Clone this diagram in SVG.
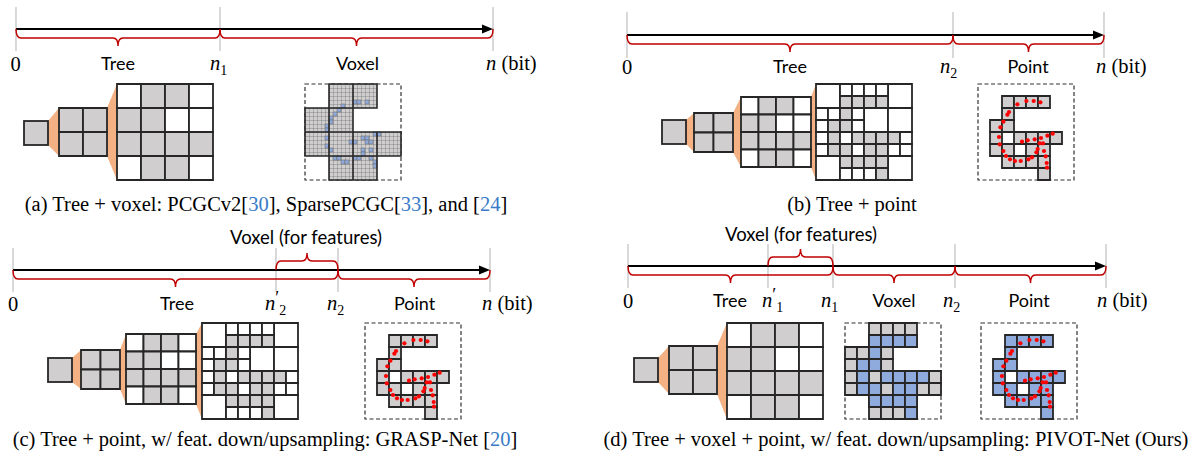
<svg xmlns="http://www.w3.org/2000/svg" width="1193" height="452" viewBox="0 0 1193 452">
<style>
.g{fill:#d0cece}
.w{fill:#fff}
.c rect{stroke:#262626;stroke-width:1.8;vector-effect:non-scaling-stroke}
.or{fill:#f4b183}
.tk{stroke:#bfbfbf;stroke-width:1.2}
.ax{stroke:#000;stroke-width:2}
.br{fill:none;stroke:#c00000;stroke-width:1.5}
.lb{font-family:Lato,"Open Sans",sans-serif;font-size:18px;fill:#000;text-anchor:middle}
.vf{font-size:18.5px}
.m{font-family:"Liberation Serif",serif;font-size:20.5px;font-style:italic}
.r{font-family:"Liberation Serif",serif;font-size:20.5px}
.sub{font-size:14px;font-style:normal}
.pr{font-size:18px;font-style:normal}
.cap{font-family:"Liberation Serif",serif;font-size:20.5px;text-anchor:middle}
.ref{fill:#3a7bc8}
.dash{fill:none;stroke:#303030;stroke-width:1.2;stroke-dasharray:4 2.5}
.dots circle{fill:#ff0000}
.fine{fill:#8faadc;stroke:#6f6f6f;stroke-width:0.6}
.co{fill:none;stroke:#262626;stroke-width:1.6}
</style>
<defs>
<pattern id="fg" patternUnits="userSpaceOnUse" width="4" height="4">
<rect width="4" height="4" fill="#d0cece"/>
<path d="M0 0H4M0 0V4" stroke="#6a6a6a" stroke-width="0.7" fill="none"/>
</pattern>
<g id="t2" class="c">
<rect class="g" x="0" y="0" width="24" height="24"/><rect class="g" x="24" y="0" width="24" height="24"/>
<rect class="g" x="0" y="24" width="24" height="24"/><rect class="g" x="24" y="24" width="24" height="24"/>
</g>
<g id="t4" class="c">
<rect class="w" x="0" y="0" width="24" height="24"/><rect class="g" x="24" y="0" width="24" height="24"/><rect class="g" x="48" y="0" width="24" height="24"/><rect class="w" x="72" y="0" width="24" height="24"/>
<rect class="g" x="0" y="24" width="24" height="24"/><rect class="g" x="24" y="24" width="24" height="24"/><rect class="w" x="48" y="24" width="24" height="24"/><rect class="w" x="72" y="24" width="24" height="24"/>
<rect class="g" x="0" y="48" width="24" height="24"/><rect class="g" x="24" y="48" width="24" height="24"/><rect class="g" x="48" y="48" width="24" height="24"/><rect class="g" x="72" y="48" width="24" height="24"/>
<rect class="w" x="0" y="72" width="24" height="24"/><rect class="g" x="24" y="72" width="24" height="24"/><rect class="g" x="48" y="72" width="24" height="24"/><rect class="w" x="72" y="72" width="24" height="24"/>
</g>
<g id="oct" class="c">
<rect class="w" x="0" y="0" width="24" height="24"/><rect class="w" x="72" y="0" width="24" height="24"/>
<rect class="w" x="48" y="24" width="24" height="24"/><rect class="w" x="72" y="24" width="24" height="24"/>
<rect class="w" x="0" y="72" width="24" height="24"/><rect class="w" x="72" y="72" width="24" height="24"/>
<rect class="w" x="24" y="0" width="12" height="12"/><rect class="w" x="36" y="0" width="12" height="12"/><rect class="w" x="48" y="0" width="12" height="12"/><rect class="w" x="60" y="0" width="12" height="12"/>
<rect class="g" x="24" y="12" width="12" height="12"/><rect class="g" x="36" y="12" width="12" height="12"/><rect class="g" x="48" y="12" width="12" height="12"/><rect class="g" x="60" y="12" width="12" height="12"/>
<rect class="w" x="0" y="24" width="12" height="12"/><rect class="w" x="12" y="24" width="12" height="12"/><rect class="g" x="24" y="24" width="12" height="12"/><rect class="w" x="36" y="24" width="12" height="12"/>
<rect class="w" x="0" y="36" width="12" height="12"/><rect class="g" x="12" y="36" width="12" height="12"/><rect class="g" x="24" y="36" width="12" height="12"/><rect class="w" x="36" y="36" width="12" height="12"/>
<rect class="w" x="0" y="48" width="12" height="12"/><rect class="g" x="12" y="48" width="12" height="12"/><rect class="w" x="24" y="48" width="12" height="12"/><rect class="g" x="36" y="48" width="12" height="12"/><rect class="g" x="48" y="48" width="12" height="12"/><rect class="g" x="60" y="48" width="12" height="12"/><rect class="g" x="72" y="48" width="12" height="12"/><rect class="w" x="84" y="48" width="12" height="12"/>
<rect class="w" x="0" y="60" width="12" height="12"/><rect class="g" x="12" y="60" width="12" height="12"/><rect class="g" x="24" y="60" width="12" height="12"/><rect class="w" x="36" y="60" width="12" height="12"/><rect class="g" x="48" y="60" width="12" height="12"/><rect class="g" x="60" y="60" width="12" height="12"/><rect class="w" x="72" y="60" width="12" height="12"/><rect class="w" x="84" y="60" width="12" height="12"/>
<rect class="g" x="24" y="72" width="12" height="12"/><rect class="g" x="36" y="72" width="12" height="12"/><rect class="g" x="48" y="72" width="12" height="12"/><rect class="g" x="60" y="72" width="12" height="12"/>
<rect class="w" x="24" y="84" width="12" height="12"/><rect class="w" x="36" y="84" width="12" height="12"/><rect class="w" x="48" y="84" width="12" height="12"/><rect class="g" x="60" y="84" width="12" height="12"/>
</g>
<g id="ptc" class="c">
<rect x="24" y="12" width="12" height="12"/><rect x="36" y="12" width="12" height="12"/><rect x="48" y="12" width="12" height="12"/><rect x="60" y="12" width="12" height="12"/>
<rect x="24" y="24" width="12" height="12"/>
<rect x="12" y="36" width="12" height="12"/><rect x="24" y="36" width="12" height="12"/>
<rect x="12" y="48" width="12" height="12"/><rect x="36" y="48" width="12" height="12"/><rect x="48" y="48" width="12" height="12"/><rect x="60" y="48" width="12" height="12"/><rect x="72" y="48" width="12" height="12"/>
<rect x="12" y="60" width="12" height="12"/><rect x="24" y="60" width="12" height="12"/><rect x="48" y="60" width="12" height="12"/><rect x="60" y="60" width="12" height="12"/>
<rect x="24" y="72" width="12" height="12"/><rect x="36" y="72" width="12" height="12"/><rect x="48" y="72" width="12" height="12"/><rect x="60" y="72" width="12" height="12"/>
<rect x="60" y="84" width="12" height="12"/>
</g>
<g id="vg" class="c">
<rect class="g" x="24" y="0" width="12" height="12"/><rect class="g" x="36" y="0" width="12" height="12"/><rect class="g" x="48" y="0" width="12" height="12"/><rect class="g" x="60" y="0" width="12" height="12"/>
<rect class="g" x="24" y="12" width="12" height="12"/><rect class="g" x="36" y="12" width="12" height="12"/><rect class="g" x="48" y="12" width="12" height="12"/><rect class="g" x="60" y="12" width="12" height="12"/>
<rect class="g" x="0" y="24" width="12" height="12"/><rect class="g" x="12" y="24" width="12" height="12"/><rect class="g" x="24" y="24" width="12" height="12"/><rect class="g" x="36" y="24" width="12" height="12"/>
<rect class="g" x="0" y="36" width="12" height="12"/><rect class="g" x="12" y="36" width="12" height="12"/><rect class="g" x="24" y="36" width="12" height="12"/><rect class="g" x="36" y="36" width="12" height="12"/>
<rect class="g" x="0" y="48" width="12" height="12"/><rect class="g" x="12" y="48" width="12" height="12"/><rect class="g" x="24" y="48" width="12" height="12"/><rect class="g" x="36" y="48" width="12" height="12"/><rect class="g" x="48" y="48" width="12" height="12"/><rect class="g" x="60" y="48" width="12" height="12"/><rect class="g" x="72" y="48" width="12" height="12"/><rect class="g" x="84" y="48" width="12" height="12"/>
<rect class="g" x="0" y="60" width="12" height="12"/><rect class="g" x="12" y="60" width="12" height="12"/><rect class="g" x="24" y="60" width="12" height="12"/><rect class="g" x="36" y="60" width="12" height="12"/><rect class="g" x="48" y="60" width="12" height="12"/><rect class="g" x="60" y="60" width="12" height="12"/><rect class="g" x="72" y="60" width="12" height="12"/><rect class="g" x="84" y="60" width="12" height="12"/>
<rect class="g" x="24" y="72" width="12" height="12"/><rect class="g" x="36" y="72" width="12" height="12"/><rect class="g" x="48" y="72" width="12" height="12"/><rect class="g" x="60" y="72" width="12" height="12"/>
<rect class="g" x="24" y="84" width="12" height="12"/><rect class="g" x="36" y="84" width="12" height="12"/><rect class="g" x="48" y="84" width="12" height="12"/><rect class="g" x="60" y="84" width="12" height="12"/>
</g>
<g id="dots" class="dots">
<circle cx="39.4" cy="20.3" r="2.1"/><circle cx="48.4" cy="17" r="2.1"/><circle cx="55.7" cy="17" r="2.1"/><circle cx="62.4" cy="18.3" r="2.1"/>
<circle cx="31" cy="28" r="2.1"/><circle cx="29.4" cy="30.7" r="2.1"/><circle cx="25.4" cy="37.7" r="2.1"/><circle cx="22.4" cy="43.3" r="2.1"/>
<circle cx="21" cy="53" r="2.1"/><circle cx="21.7" cy="60.3" r="2.1"/><circle cx="25.4" cy="67" r="2.1"/><circle cx="28" cy="72" r="2.1"/>
<circle cx="32" cy="75.3" r="2.1"/><circle cx="37" cy="77" r="2.1"/><circle cx="42.7" cy="77" r="2.1"/><circle cx="50.4" cy="75.3" r="2.1"/>
<circle cx="54" cy="73.3" r="2.1"/><circle cx="44" cy="57.7" r="2.1"/><circle cx="49.7" cy="56.3" r="2.1"/><circle cx="56.7" cy="55.3" r="2.1"/>
<circle cx="63" cy="54" r="2.1"/><circle cx="69.4" cy="51.7" r="2.1"/><circle cx="74.7" cy="49.7" r="2.1"/><circle cx="61.7" cy="59.3" r="2.1"/>
<circle cx="65" cy="59.3" r="2.1"/><circle cx="59.7" cy="65" r="2.1"/><circle cx="58.4" cy="68.3" r="2.1"/><circle cx="66" cy="67" r="2.1"/>
<circle cx="67.7" cy="72.3" r="2.1"/><circle cx="68.7" cy="79" r="2.1"/><circle cx="69" cy="83.7" r="2.1"/>
</g>
</defs>
<rect width="1193" height="452" fill="#fff"/>

<!-- connectors: orange level transitions -->
<g id="connectors" class="or">
<polygon points="48,121 59,108 59,156 48,145"/>
<polygon points="107,108 117,84 117,180 107,156"/>
<polygon points="686,120 694,113 694,152 686,144"/>
<polygon points="733,113 741,97 741,167 733,152"/>
<polygon points="811,97 816,84 816,180 811,167"/>
<polygon points="72,358 81,350 81,389 72,382"/>
<polygon points="120,350 126,334 126,404 120,389"/>
<polygon points="196,334 202,323 202,419 196,404"/>
<polygon points="658,358 669,346 669,394 658,382"/>
<polygon points="717,346 727,323 727,419 717,394"/>
</g>

<!-- (a) -->
<g id="a-timeline">
<line class="tk" x1="16" y1="7" x2="16" y2="51"/><line class="tk" x1="220" y1="7" x2="220" y2="51"/><line class="tk" x1="493" y1="7" x2="493" y2="51"/>
<line class="ax" x1="16" y1="29" x2="484" y2="29"/><polygon points="482,24.5 493,29 482,33.5"/>
<path class="br" d="M16 29Q16 38 21 38H113Q118 38 118 46Q118 38 123 38H215Q220 38 220 29"/>
<path class="br" d="M220 29Q220 38 225 38H351.5Q356.5 38 356.5 46Q356.5 38 361.5 38H488Q493 38 493 29"/>
<text class="r" x="15.5" y="71" text-anchor="middle">0</text>
<text class="lb" x="118" y="70">Tree</text>
<text class="m" x="210" y="70">n<tspan class="sub" dy="5">1</tspan></text>
<text class="lb" x="357.5" y="70">Voxel</text>
<text class="m" x="486" y="70">n<tspan style="font-style:normal"> (bit)</tspan></text>
</g>
<g id="a-tree">
<rect class="g" x="24" y="121" width="24" height="24" stroke="#262626" stroke-width="1.8"/>
<use href="#t2" x="59" y="108"/>
<use href="#t4" x="117" y="84"/>
</g>
<g id="a-voxel" transform="translate(305,84)">
<rect class="dash" x="0" y="0" width="96" height="96"/>
<path d="M24 0H72V24H24ZM0 24H48V48H0ZM0 48H96V72H0ZM24 72H72V96H24Z" fill="url(#fg)"/>
<g class="fine">
<rect x="36" y="20" width="4" height="4"/><rect x="48" y="16" width="4" height="4"/><rect x="52" y="16" width="4" height="4"/><rect x="60" y="16" width="4" height="4"/>
<rect x="32" y="24" width="4" height="4"/><rect x="28" y="28" width="4" height="4"/><rect x="24" y="32" width="4" height="4"/><rect x="24" y="36" width="4" height="4"/>
<rect x="20" y="40" width="4" height="4"/><rect x="20" y="44" width="4" height="4"/><rect x="20" y="52" width="4" height="4"/><rect x="20" y="60" width="4" height="4"/>
<rect x="24" y="64" width="4" height="4"/><rect x="28" y="72" width="4" height="4"/><rect x="32" y="72" width="4" height="4"/><rect x="36" y="76" width="4" height="4"/>
<rect x="40" y="76" width="4" height="4"/><rect x="48" y="72" width="4" height="4"/><rect x="52" y="72" width="4" height="4"/><rect x="44" y="56" width="4" height="4"/>
<rect x="48" y="56" width="4" height="4"/><rect x="56" y="52" width="4" height="4"/><rect x="60" y="52" width="4" height="4"/><rect x="68" y="48" width="4" height="4"/>
<rect x="72" y="48" width="4" height="4"/><rect x="60" y="56" width="4" height="4"/><rect x="64" y="56" width="4" height="4"/><rect x="56" y="64" width="4" height="4"/>
<rect x="56" y="68" width="4" height="4"/><rect x="64" y="64" width="4" height="4"/><rect x="64" y="72" width="4" height="4"/><rect x="68" y="76" width="4" height="4"/>
<rect x="68" y="80" width="4" height="4"/>
</g>
<path class="co" d="M24 0H72V24H24ZM48 0V24M0 24H48V48H0ZM24 24V48M0 48H96V72H0ZM24 48V72M48 48V72M72 48V72M24 72H72V96H24ZM48 72V96"/>
</g>
<text id="a-caption" class="cap" x="266" y="211">(a) Tree + voxel: PCGCv2[<tspan class="ref">30</tspan>], SparsePCGC[<tspan class="ref">33</tspan>], and [<tspan class="ref">24</tspan>]</text>

<!-- (b) -->
<g id="b-timeline">
<line class="tk" x1="627" y1="12" x2="627" y2="58"/><line class="tk" x1="953" y1="12" x2="953" y2="58"/><line class="tk" x1="1104" y1="12" x2="1104" y2="58"/>
<line class="ax" x1="627" y1="35" x2="1095" y2="35"/><polygon points="1093,30.5 1104,35 1093,39.5"/>
<path class="br" d="M627 35Q627 44 632 44H785Q790 44 790 52Q790 44 795 44H948Q953 44 953 35"/>
<path class="br" d="M953 35Q953 44 958 44H1023.5Q1028.5 44 1028.5 52Q1028.5 44 1033.5 44H1099Q1104 44 1104 35"/>
<text class="r" x="627" y="74" text-anchor="middle">0</text>
<text class="lb" x="790" y="73">Tree</text>
<text class="m" x="940" y="73">n<tspan class="sub" dy="5">2</tspan></text>
<text class="lb" x="1028" y="73">Point</text>
<text class="m" x="1096" y="73">n<tspan style="font-style:normal"> (bit)</tspan></text>
</g>
<g id="b-tree">
<rect class="g" x="662" y="120" width="24" height="24" stroke="#262626" stroke-width="1.8"/>
<use href="#t2" transform="translate(694,113) scale(0.8125)"/>
<use href="#t4" transform="translate(741,97) scale(0.729)"/>
<use href="#oct" x="816" y="84"/>
</g>
<g id="b-point" transform="translate(978,84)">
<rect class="dash" x="0" y="0" width="96" height="96"/>
<use href="#ptc" fill="#d0cece"/>
<use href="#dots"/>
</g>
<text id="b-caption" class="cap" x="852" y="211">(b) Tree + point</text>

<!-- (c) -->
<g id="c-timeline">
<text class="lb vf" x="306" y="244">Voxel (for features)</text>
<line class="tk" x1="13" y1="248" x2="13" y2="292"/><line class="tk" x1="276" y1="248" x2="276" y2="292"/><line class="tk" x1="338" y1="248" x2="338" y2="292"/><line class="tk" x1="490" y1="248" x2="490" y2="292"/>
<line class="ax" x1="13" y1="270" x2="481" y2="270"/><polygon points="479,265.5 490,270 479,274.5"/>
<path class="br" d="M276 270Q276 261 281 261H302Q307 261 307 253Q307 261 312 261H333Q338 261 338 270"/>
<path class="br" d="M13 270Q13 279 18 279H170.5Q175.5 279 175.5 287Q175.5 279 180.5 279H333Q338 279 338 270"/>
<path class="br" d="M338 270Q338 279 343 279H409Q414 279 414 287Q414 279 419 279H485Q490 279 490 270"/>
<text class="r" x="13" y="311" text-anchor="middle">0</text>
<text class="lb" x="177" y="310">Tree</text>
<text class="m" x="265" y="310">n<tspan class="pr" dy="-6">′</tspan><tspan class="sub" dy="11">2</tspan></text>
<text class="m" x="327" y="310">n<tspan class="sub" dy="5">2</tspan></text>
<text class="lb" x="414.5" y="310">Point</text>
<text class="m" x="482" y="310">n<tspan style="font-style:normal"> (bit)</tspan></text>
</g>
<g id="c-tree">
<rect class="g" x="48" y="358" width="24" height="24" stroke="#262626" stroke-width="1.8"/>
<use href="#t2" transform="translate(81,350) scale(0.8125)"/>
<use href="#t4" transform="translate(126,334) scale(0.729)"/>
<use href="#oct" x="202" y="323"/>
</g>
<g id="c-point" transform="translate(365,323)">
<rect class="dash" x="0" y="0" width="96" height="96"/>
<use href="#ptc" fill="#d0cece"/>
<use href="#dots"/>
</g>
<text id="c-caption" class="cap" x="265" y="446">(c) Tree + point, w/ feat. down/upsampling: GRASP-Net [<tspan class="ref">20</tspan>]</text>

<!-- (d) -->
<g id="d-timeline">
<text class="lb vf" x="801" y="241">Voxel (for features)</text>
<line class="tk" x1="628" y1="244" x2="628" y2="288"/><line class="tk" x1="768" y1="244" x2="768" y2="288"/><line class="tk" x1="833" y1="244" x2="833" y2="288"/><line class="tk" x1="955" y1="244" x2="955" y2="288"/><line class="tk" x1="1106" y1="244" x2="1106" y2="288"/>
<line class="ax" x1="628" y1="266" x2="1097" y2="266"/><polygon points="1095,261.5 1106,266 1095,270.5"/>
<path class="br" d="M768 266Q768 257 773 257H795.5Q800.5 257 800.5 249Q800.5 257 805.5 257H828Q833 257 833 266"/>
<path class="br" d="M628 266Q628 275 633 275H725.5Q730.5 275 730.5 283Q730.5 275 735.5 275H828Q833 275 833 266"/>
<path class="br" d="M833 266Q833 275 838 275H889Q894 275 894 283Q894 275 899 275H950Q955 275 955 266"/>
<path class="br" d="M955 266Q955 275 960 275H1025.5Q1030.5 275 1030.5 283Q1030.5 275 1035.5 275H1101Q1106 275 1106 266"/>
<text class="r" x="628" y="308" text-anchor="middle">0</text>
<text class="lb" x="730" y="307">Tree</text>
<text class="m" x="762" y="307">n<tspan class="pr" dy="-6">′</tspan><tspan class="sub" dy="11">1</tspan></text>
<text class="m" x="821" y="307">n<tspan class="sub" dy="5">1</tspan></text>
<text class="lb" x="894" y="307">Voxel</text>
<text class="m" x="943" y="307">n<tspan class="sub" dy="5">2</tspan></text>
<text class="lb" x="1029" y="307">Point</text>
<text class="m" x="1097" y="307">n<tspan style="font-style:normal"> (bit)</tspan></text>
</g>
<g id="d-tree">
<rect class="g" x="634" y="358" width="24" height="24" stroke="#262626" stroke-width="1.8"/>
<use href="#t2" x="669" y="346"/>
<use href="#t4" x="727" y="323"/>
</g>
<g id="d-voxel" transform="translate(845,323)">
<rect class="dash" x="0" y="0" width="96" height="96"/>
<use href="#vg"/>
<use href="#ptc" fill="#8faadc"/>
</g>
<g id="d-point" transform="translate(981,323)">
<rect class="dash" x="0" y="0" width="96" height="96"/>
<use href="#ptc" fill="#8faadc"/>
<use href="#dots"/>
</g>
<text id="d-caption" class="cap" x="896" y="446">(d) Tree + voxel + point, w/ feat. down/upsampling: PIVOT-Net (Ours)</text>
</svg>
